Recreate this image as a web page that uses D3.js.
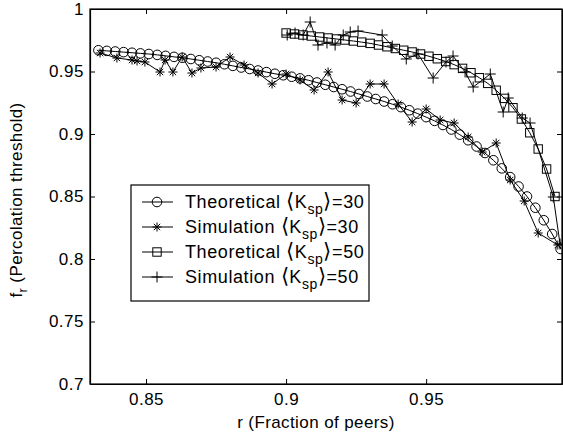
<!DOCTYPE html>
<html>
<head>
<meta charset="utf-8">
<script src="https://cdn.jsdelivr.net/npm/d3@7"></script>
<style>
  body { margin: 0; background: #fff; }
  text { font-family: "Liberation Sans", Arial, sans-serif; fill: #000; }
</style>
</head>
<body>
<div id="plot"></div>
<script>
// Theoretical <K_sp>=30
const rTheo30 = [0.833, 0.836, 0.839, 0.842, 0.845, 0.848, 0.851, 0.854, 0.857, 0.860,
  0.863, 0.866, 0.869, 0.872, 0.875, 0.878, 0.881, 0.884, 0.887, 0.890,
  0.893, 0.896, 0.899, 0.902, 0.905, 0.908, 0.911, 0.914, 0.917, 0.920,
  0.923, 0.926, 0.929, 0.932, 0.935, 0.938, 0.941, 0.944, 0.947, 0.950,
  0.953, 0.956, 0.959, 0.962, 0.965, 0.968, 0.971, 0.974, 0.977, 0.980,
  0.983, 0.986, 0.989, 0.992, 0.995, 0.998];
const fTheo30 = [0.967, 0.9665, 0.966, 0.9655, 0.965, 0.9645, 0.964, 0.9633, 0.9625, 0.9617,
  0.961, 0.960, 0.959, 0.958, 0.957, 0.9558, 0.9545, 0.9532, 0.952, 0.9508,
  0.9495, 0.9482, 0.947, 0.9458, 0.9445, 0.943, 0.9412, 0.9394, 0.9376, 0.9358,
  0.934, 0.932, 0.930, 0.928, 0.926, 0.9238, 0.9215, 0.919, 0.9163, 0.9135,
  0.9105, 0.9072, 0.9036, 0.8995, 0.895, 0.890, 0.8848, 0.879, 0.8725, 0.8655,
  0.858, 0.850, 0.841, 0.831, 0.820, 0.808];

// Simulation <K_sp>=30
const rSim30 = [0.8336, 0.8396, 0.8450, 0.8468, 0.8496, 0.8550, 0.8568, 0.8596, 0.8629, 0.8664,
  0.8696, 0.875, 0.880, 0.885, 0.890, 0.895, 0.900, 0.905, 0.910, 0.915,
  0.920, 0.925, 0.930, 0.935, 0.940, 0.945, 0.950, 0.955, 0.960, 0.965,
  0.970, 0.975, 0.980, 0.985, 0.990, 0.997];
const fSim30 = [0.9648, 0.9608, 0.9592, 0.9584, 0.9576, 0.9496, 0.9592, 0.9496, 0.9616, 0.9488,
  0.9528, 0.9536, 0.9616, 0.9552, 0.9488, 0.9400, 0.9480, 0.9432, 0.9352, 0.9496,
  0.9272, 0.9248, 0.9400, 0.9400, 0.9240, 0.9096, 0.9200, 0.9112, 0.9088, 0.8976,
  0.8856, 0.8928, 0.8632, 0.8464, 0.8208, 0.8112];

// Theoretical <K_sp>=50
const rTheo50 = [0.900, 0.903, 0.906, 0.909, 0.912, 0.915, 0.918, 0.921, 0.924, 0.927,
  0.930, 0.933, 0.936, 0.939, 0.942, 0.945, 0.948, 0.951, 0.954, 0.957,
  0.960, 0.963, 0.966, 0.969, 0.972, 0.975, 0.978, 0.981, 0.984, 0.987,
  0.990, 0.993, 0.996];
const fTheo50 = [0.9808, 0.9800, 0.9792, 0.9784, 0.9776, 0.9768, 0.9760, 0.9752, 0.9744, 0.9735,
  0.9725, 0.9712, 0.9698, 0.9684, 0.9670, 0.9656, 0.9640, 0.9622, 0.9602, 0.9580,
  0.9555, 0.9525, 0.949, 0.945, 0.9405, 0.935, 0.9285, 0.921, 0.912, 0.901,
  0.888, 0.872, 0.850];

// Simulation <K_sp>=50
const rSim50 = [0.9004, 0.9032, 0.9061, 0.9086, 0.9114, 0.9146, 0.9175, 0.9204, 0.9229, 0.9257,
  0.9343, 0.9379, 0.9429, 0.9471, 0.9525, 0.9571, 0.9596, 0.9639, 0.9668, 0.9729,
  0.9775, 0.9793, 0.9843, 0.9871, 0.9954, 0.9978];
const fSim50 = [0.9792, 0.9808, 0.9792, 0.9896, 0.9712, 0.9728, 0.9712, 0.9792, 0.9816, 0.9824,
  0.9792, 0.9704, 0.9600, 0.9640, 0.9448, 0.9576, 0.9624, 0.9496, 0.9376, 0.9480,
  0.9176, 0.9288, 0.9128, 0.9088, 0.8496, 0.8120];

const xTicks = [0.85, 0.9, 0.95];
const yTicks = [0.7, 0.75, 0.8, 0.85, 0.9, 0.95, 1];

const w = 563, h = 437;
const margin = {left: 90, top: 9, right: 1, bottom: 53};
const innerWidth = w - margin.left - margin.right;
const innerHeight = h - margin.top - margin.bottom;

const xScale = d3.scaleLinear().domain([0.83, 0.9985]).range([0, innerWidth]);
const yScale = d3.scaleLinear().domain([0.7, 1]).range([innerHeight, 0]);

const series = [
  {name: "Theoretical", k: "30", marker: "circle", r: rTheo30, f: fTheo30},
  {name: "Simulation", k: "30", marker: "star", r: rSim30, f: fSim30},
  {name: "Theoretical", k: "50", marker: "square", r: rTheo50, f: fTheo50},
  {name: "Simulation", k: "50", marker: "plus", r: rSim50, f: fSim50}
];

function drawMarker(g, type) {
  if (type == "circle") {
    g.append("circle").attr("r", 4.8).attr("fill", "none").attr("stroke", "#000");
  } else if (type == "square") {
    g.append("rect").attr("x", -4.2).attr("y", -4.2).attr("width", 8.4).attr("height", 8.4)
      .attr("fill", "none").attr("stroke", "#000");
  } else if (type == "plus") {
    g.append("path").attr("d", "M-5.5,0H5.5M0,-5.5V5.5").attr("stroke", "#000");
  } else {
    g.append("path").attr("d", "M-4.5,0H4.5M0,-4.5V4.5M-3.2,-3.2L3.2,3.2M-3.2,3.2L3.2,-3.2")
      .attr("stroke", "#000");
  }
}

const svg = d3.select("div#plot")
  .append("svg")
  .attr("width", w)
  .attr("height", h);

const plot = svg.append("g")
  .attr("id", "plotarea")
  .attr("transform", `translate( ${margin.left}, ${margin.top} )`);

// axes, matlab style ticks pointing inward
const fmt = d => String(d);
plot.append("g")
  .attr("transform", `translate(0, ${innerHeight})`)
  .call(d3.axisBottom(xScale).tickValues(xTicks).tickFormat(fmt).tickSizeInner(-5).tickSizeOuter(0).tickPadding(9));
plot.append("g")
  .call(d3.axisTop(xScale).tickValues(xTicks).tickFormat("").tickSizeInner(-5).tickSizeOuter(0));
plot.append("g")
  .call(d3.axisLeft(yScale).tickValues(yTicks).tickFormat(fmt).tickSizeInner(-5).tickSizeOuter(0).tickPadding(6));
plot.append("g")
  .attr("transform", `translate(${innerWidth}, 0)`)
  .call(d3.axisRight(yScale).tickValues(yTicks).tickFormat("").tickSizeInner(-5).tickSizeOuter(0));

plot.selectAll(".domain").attr("stroke", "#000").attr("stroke-width", 1.2);
plot.selectAll(".tick line").attr("stroke", "#000");
plot.selectAll(".tick text")
  .style("font-family", "'Liberation Sans', Arial, sans-serif")
  .style("font-size", "17px")
  .style("letter-spacing", "0.5px")
  .attr("fill", "#000");

// frame
plot.append("rect")
  .attr("width", innerWidth).attr("height", innerHeight)
  .attr("fill", "none").attr("stroke", "#000").attr("stroke-width", 1.2);

// lines and markers
const line = d3.line().x(d => xScale(d[0])).y(d => yScale(d[1]));
series.forEach(s => {
  const pts = s.r.map((r, i) => [r, s.f[i]]);
  plot.append("path")
    .datum(pts)
    .attr("d", line)
    .attr("fill", "none")
    .attr("stroke", "#000")
    .attr("stroke-width", 1);
  plot.append("g")
    .selectAll("g")
    .data(pts)
    .enter()
    .append("g")
    .attr("transform", d => `translate(${xScale(d[0])}, ${yScale(d[1])})`)
    .each(function() { drawMarker(d3.select(this), s.marker); });
});

// x label
svg.append("text")
  .attr("x", 316)
  .attr("y", 428)
  .attr("text-anchor", "middle")
  .style("font-size", "17px")
  .style("letter-spacing", "0.4px")
  .text("r (Fraction of peers)");

// y label
const ylab = svg.append("text")
  .attr("transform", "translate(22, 200) rotate(-90)")
  .attr("text-anchor", "middle")
  .style("font-size", "17px")
  .style("letter-spacing", "0.4px");
ylab.append("tspan").text("f");
ylab.append("tspan").attr("dy", 5).style("font-size", "13px").text("r");
ylab.append("tspan").attr("dy", -5).text(" (Percolation threshold)");

// legend
const legend = svg.append("g").attr("id", "legend");
legend.append("rect")
  .attr("x", 131).attr("y", 185).attr("width", 238).attr("height", 116)
  .attr("fill", "#fff").attr("stroke", "#000").attr("stroke-width", 1.2);

series.forEach((s, i) => {
  const yy = 202 + i * 25;
  legend.append("line")
    .attr("x1", 142).attr("x2", 173).attr("y1", yy).attr("y2", yy)
    .attr("stroke", "#000");
  drawMarker(legend.append("g").attr("transform", `translate(157, ${yy})`), s.marker);
  const t = legend.append("text")
    .attr("x", 185).attr("y", yy + 6)
    .style("font-size", "18px")
    .style("letter-spacing", "0.6px");
  t.append("tspan").text(s.name + " ");
  t.append("tspan").style("font-size", "21px").text("\u27E8");
  t.append("tspan").text("K");
  t.append("tspan").attr("dy", 6).style("font-size", "14px").text("sp");
  t.append("tspan").attr("dy", -6).style("font-size", "21px").text("\u27E9");
  t.append("tspan").text("=" + s.k);
});
</script>
</body>
</html>
